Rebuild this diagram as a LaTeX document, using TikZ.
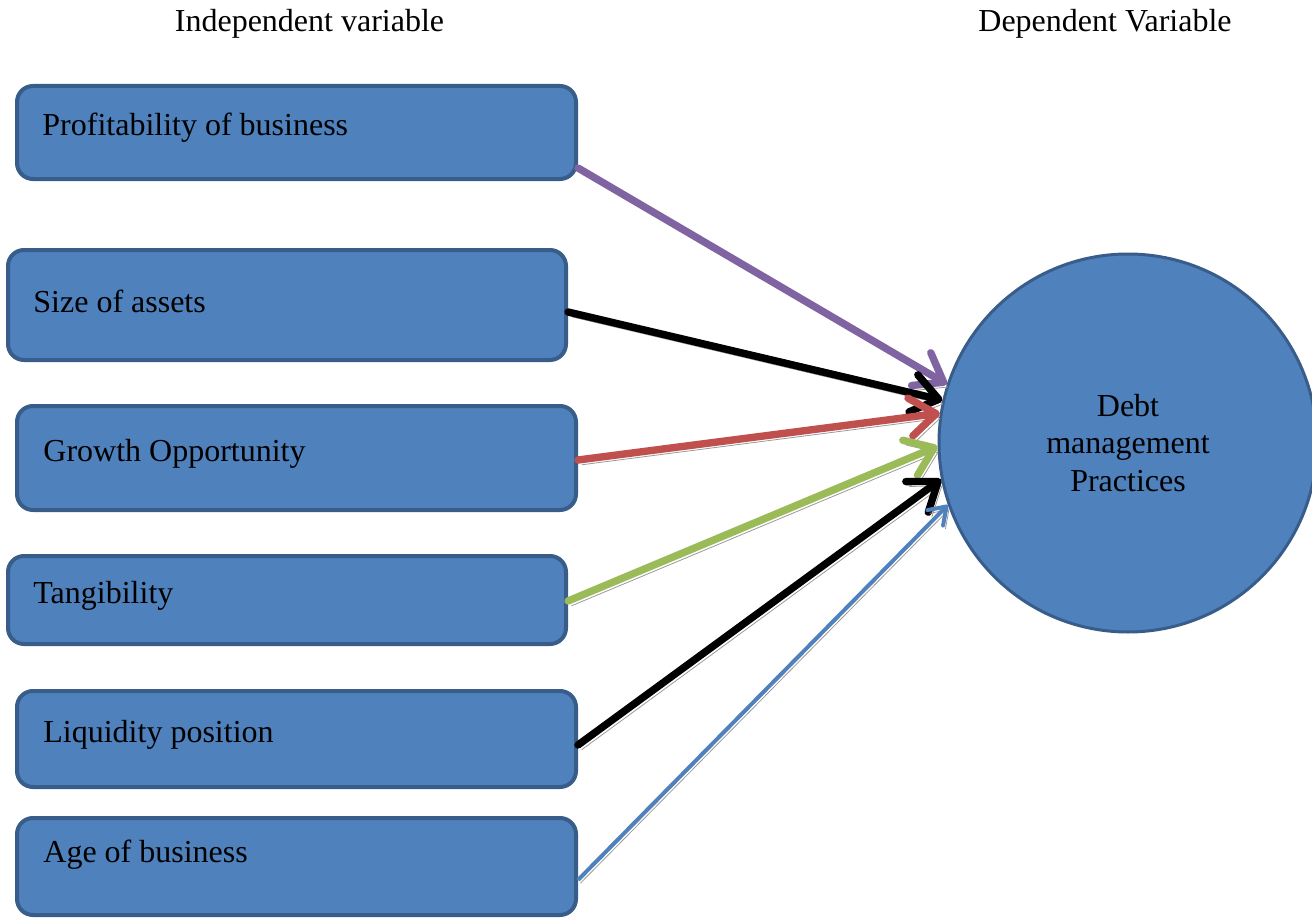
\documentclass[tikz,border=0pt]{standalone}
\usepackage{fontspec}
\setmainfont{Liberation Serif}
\usetikzlibrary{arrows.meta,calc}
\definecolor{boxfill}{HTML}{4F81BD}
\definecolor{boxline}{HTML}{385D8A}
\definecolor{apurple}{HTML}{8064A2}
\definecolor{ared}{HTML}{C0504D}
\definecolor{agreen}{HTML}{9BBB59}
\definecolor{ablue}{HTML}{4F81BD}
\tikzset{
  box/.style={draw=boxline, fill=boxfill, line width=2pt, rounded corners=8pt, inner sep=0pt},
  lbl/.style={anchor=west, inner sep=0pt},
  circ/.style={circle, draw=boxline, fill=boxfill, line width=1.5pt, minimum size=189pt, inner sep=0pt, align=center},
  conn/.style={draw=#1, line width=3.7pt, line cap=round,
    -{Straight Barb[length=13pt, width=19pt, line cap=round, line join=round]},
    preaction={draw=black!40, transform canvas={shift={(1.8pt,-2.4pt)}}}},
  thinconn/.style={draw=#1, line width=2pt,
    -{Straight Barb[length=8pt, width=11pt, line cap=round, line join=round]},
    preaction={draw=black!40, transform canvas={shift={(1.2pt,-1.6pt)}}}},
}
\begin{document}
\begin{tikzpicture}[x=0.5pt, y=0.5pt, font=\fontsize{16}{18.75}\selectfont]
\useasboundingbox (0,0) rectangle (1312,-920);

\node[inner sep=0pt] (h1) at (309.5,-24) {Independent variable};
\node[inner sep=0pt] (h2) at (1105,-24) {Dependent Variable};

\node[box, minimum width=279.5pt, minimum height=46.5pt] (b1) at (296.5,-132.5) {};
\node[box, minimum width=279pt, minimum height=55pt] (b2) at (287,-305) {};
\node[box, minimum width=279.5pt, minimum height=52pt] (b3) at (296.5,-458) {};
\node[box, minimum width=279pt, minimum height=44pt] (b4) at (287,-600) {};
\node[box, minimum width=279.5pt, minimum height=48pt] (b5) at (296.5,-739) {};
\node[box, minimum width=279.5pt, minimum height=48.5pt] (b6) at (296.5,-866.5) {};

\node[lbl] (t1) at (42,-128) {Profitability of business};
\node[lbl] (t2) at (33,-301) {Size of assets};
\node[lbl] (t3) at (43,-454) {Growth Opportunity};
\node[lbl] (t4) at (33,-596) {Tangibility};
\node[lbl] (t5) at (43,-735) {Liquidity position};
\node[lbl] (t6) at (43,-855) {Age of business};

\node[circ] (c) at (1128,-443) {Debt\\management\\Practices};

\draw[conn=apurple] ($(b1.south east)+(0,13)$) -- (c.162.7);
\draw[conn=black] ($(b2.east)+(0,-7)$) -- (c.167.9);
\draw[conn=ared] ($(b3.east)+(0,-2)$) -- (c.171.4);
\draw[conn=agreen] ($(b4.east)+(0,-1)$) -- (c.181.2);
\draw[conn=black] ($(b5.east)+(0,-6)$) -- (c.191.8);
\draw[thinconn=ablue] ($(b6.east)+(0,-13.5)$) -- (c.199.5);
\end{tikzpicture}
\end{document}
